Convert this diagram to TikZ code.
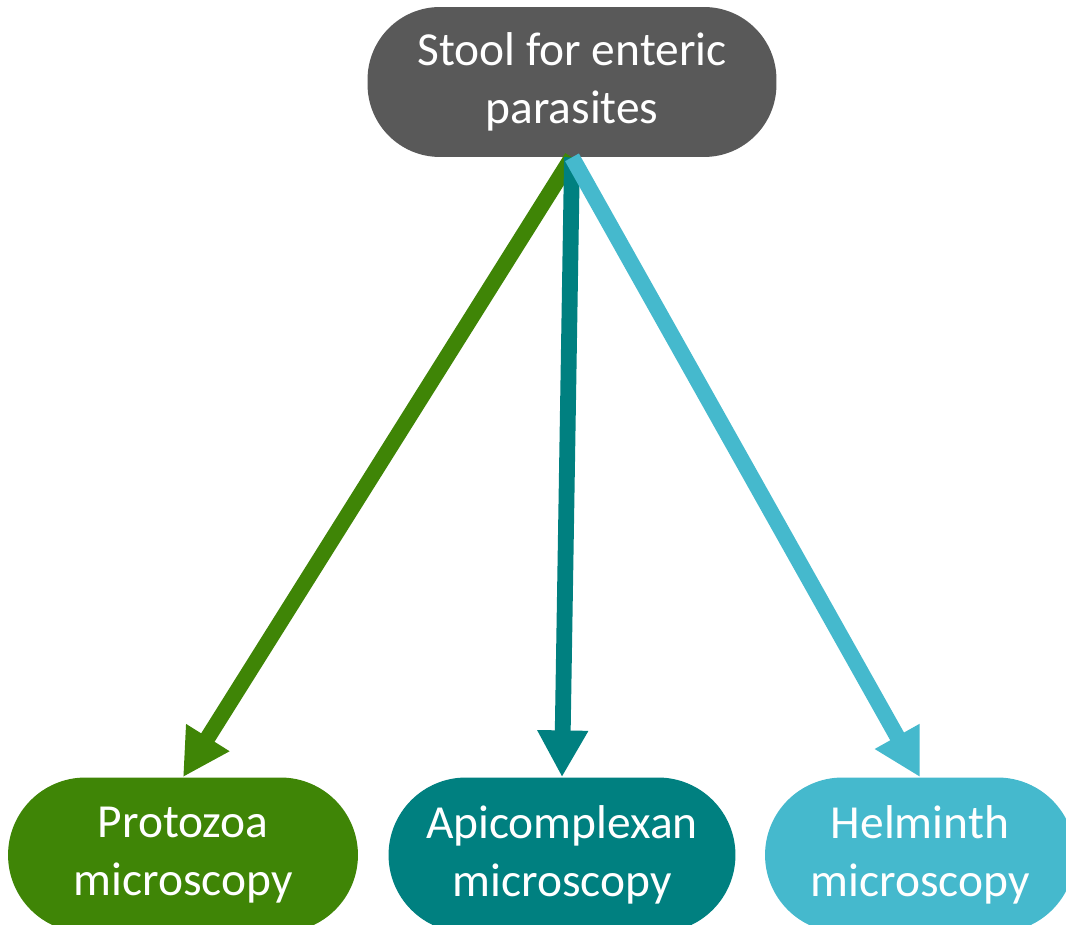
\documentclass[tikz,border=0pt]{standalone}
\usepackage{fontspec}
\setmainfont{Carlito}
\usetikzlibrary{arrows.meta}

\definecolor{stoolgray}{HTML}{595959}
\definecolor{protogreen}{HTML}{3F8506}
\definecolor{apiteal}{HTML}{008080}
\definecolor{helmblue}{HTML}{45B9CD}

\tikzset{
  box/.style={rectangle, rounded corners=1.55cm, text=white, align=center,
    font=\fontsize{27}{33}\selectfont, inner sep=0pt},
  link/.style={line width=9pt, -{Triangle[length=26.6pt, width=27.2pt]}}
}

\begin{document}
\begin{tikzpicture}[x=0.02cm, y=-0.02cm]
\useasboundingbox (0, 0) rectangle (1066, 925);
\clip (0, 0) rectangle (1066, 925);

\node [box, fill=stoolgray, rounded corners=1.45cm,
       minimum width=8.18cm, minimum height=3cm] (stool) at (572, 82)
  {Stool for enteric\\parasites};

%%%%%%%%%%%%%%%%%%%%%%%%%%%%%%%%%%%%%%%%

\node [box, fill=protogreen, minimum width=7cm, minimum height=3.1cm]
  (protozoa) at (183, 855) {Protozoa\\microscopy};
\node [box, fill=apiteal, minimum width=6.94cm, minimum height=3.1cm]
  (apicomplexan) at (562, 855) {Apicomplexan\\microscopy};
\node [box, fill=helmblue, minimum width=6.2cm, minimum height=3.1cm]
  (helminth) at (920, 855) {Helminth\\microscopy};

\draw [link, protogreen] (stool.south) -- (protozoa.north);
\draw [link, apiteal] (stool.south) -- (apicomplexan.north);
\draw [link, helmblue] (stool.south) -- (helminth.north);

\end{tikzpicture}
\end{document}
